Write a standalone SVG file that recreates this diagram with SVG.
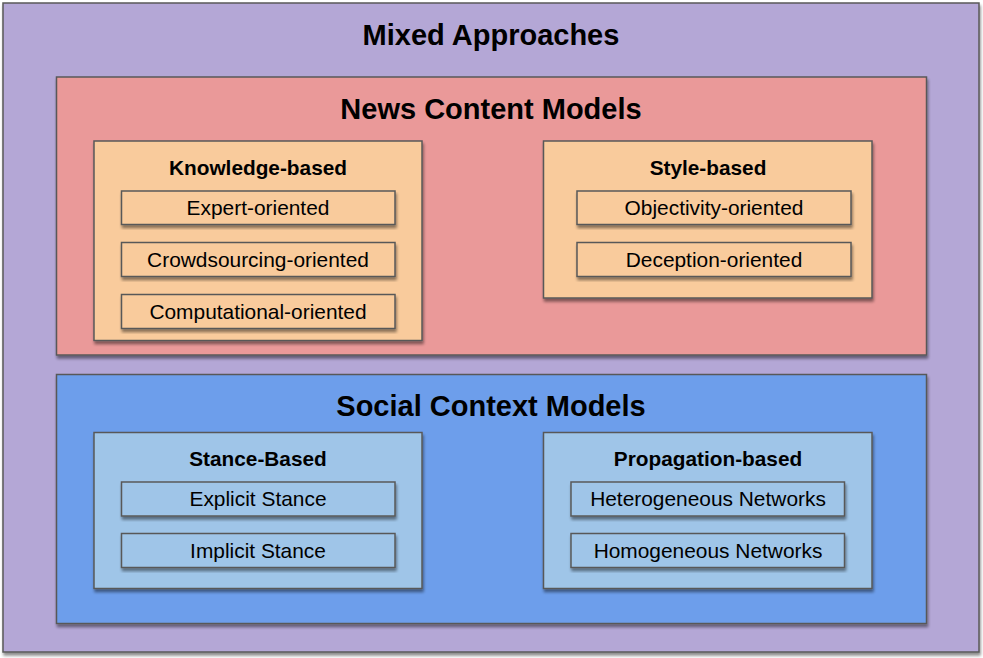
<svg xmlns="http://www.w3.org/2000/svg" width="983" height="658" viewBox="0 0 983 658">
<defs>
<filter id="sh" x="-5%" y="-5%" width="115%" height="120%">
<feGaussianBlur in="SourceAlpha" stdDeviation="1.8"/>
<feOffset dx="1" dy="3" result="b"/>
<feComponentTransfer><feFuncA type="linear" slope="0.45"/></feComponentTransfer>
<feMerge><feMergeNode/><feMergeNode in="SourceGraphic"/></feMerge>
</filter>
<style>
.box{stroke:#595959;stroke-width:1.5;filter:url(#sh)}
.mix{fill:#b4a7d6}
.news{fill:#ea9999}
.org{fill:#f9cb9c}
.soc{fill:#6d9eeb}
.lb{fill:#9fc5e8}
text{font-family:"Liberation Sans",Arial,sans-serif;fill:#000;text-anchor:middle}
.t1{font-size:29px;font-weight:bold}
.t2{font-size:20.8px;font-weight:bold}
.t3{font-size:20.9px}
</style>
</defs>
<g id="mixed">
<rect class="box mix" x="3" y="3" width="976" height="649"/>
<text class="t1" x="491" y="44.5">Mixed Approaches</text>
</g>
<g id="news">
<rect class="box news" x="56.5" y="77" width="870" height="278"/>
<text class="t1" x="491" y="118.5">News Content Models</text>
</g>
<g id="knowledge">
<rect class="box org" x="94" y="141" width="328" height="199.5"/>
<text class="t2" x="258" y="175">Knowledge-based</text>
</g>
<g id="expert">
<rect class="box org" x="121.5" y="191" width="273.5" height="33.5"/>
<text class="t3" x="258" y="215">Expert-oriented</text>
</g>
<g id="crowd">
<rect class="box org" x="121.5" y="242.5" width="273.5" height="34"/>
<text class="t3" x="258" y="267">Crowdsourcing-oriented</text>
</g>
<g id="computational">
<rect class="box org" x="121.5" y="294.5" width="273.5" height="34"/>
<text class="t3" x="258" y="319">Computational-oriented</text>
</g>
<g id="style">
<rect class="box org" x="543.5" y="141" width="328.5" height="157"/>
<text class="t2" x="708" y="175">Style-based</text>
</g>
<g id="objectivity">
<rect class="box org" x="577" y="191" width="274" height="33.5"/>
<text class="t3" x="714" y="215">Objectivity-oriented</text>
</g>
<g id="deception">
<rect class="box org" x="577" y="242.5" width="274" height="34"/>
<text class="t3" x="714" y="267">Deception-oriented</text>
</g>
<g id="social">
<rect class="box soc" x="56.5" y="374.5" width="870" height="249"/>
<text class="t1" x="491" y="415.5">Social Context Models</text>
</g>
<g id="stance">
<rect class="box lb" x="94" y="432.5" width="328" height="156"/>
<text class="t2" x="258" y="466">Stance-Based</text>
</g>
<g id="explicit">
<rect class="box lb" x="121.5" y="482" width="273.5" height="34"/>
<text class="t3" x="258" y="506">Explicit Stance</text>
</g>
<g id="implicit">
<rect class="box lb" x="121.5" y="533.5" width="273.5" height="34"/>
<text class="t3" x="258" y="558">Implicit Stance</text>
</g>
<g id="propagation">
<rect class="box lb" x="543.5" y="432.5" width="328.5" height="156"/>
<text class="t2" x="708" y="466">Propagation-based</text>
</g>
<g id="heterogeneous">
<rect class="box lb" x="571" y="482" width="273.5" height="34"/>
<text class="t3" x="708" y="506">Heterogeneous Networks</text>
</g>
<g id="homogeneous">
<rect class="box lb" x="571" y="533.5" width="273.5" height="34"/>
<text class="t3" x="708" y="558">Homogeneous Networks</text>
</g>
<g id="connectors"></g>
</svg>
